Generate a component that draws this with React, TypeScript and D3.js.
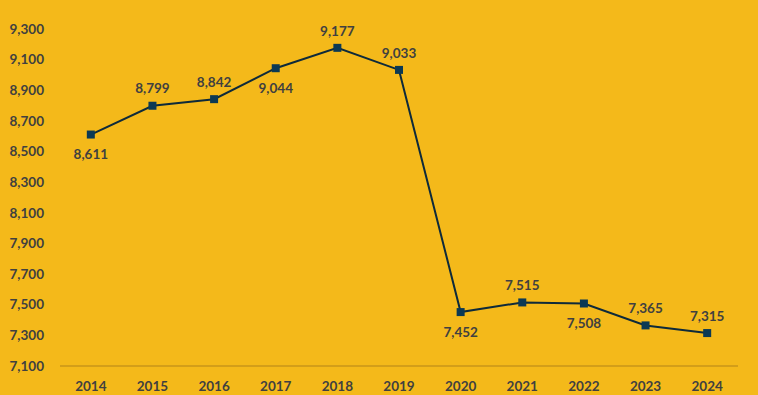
import React from 'react'
import * as d3 from 'd3'

const years = ['2014', '2015', '2016', '2017', '2018', '2019', '2020', '2021', '2022', '2023', '2024']
const values = [8611, 8799, 8842, 9044, 9177, 9033, 7452, 7515, 7508, 7365, 7315]
const labelBelow = [true, false, false, true, false, false, true, false, true, false, false]
const yTicks = [7100, 7300, 7500, 7700, 7900, 8100, 8300, 8500, 8700, 8900, 9100, 9300]

const W = 758
const H = 395
const BG = '#F4B91A'
const TEXT = '#404040'
const LINE = '#0E2A3A'
const MARK = '#0B3954'

const App: React.FC = () => {
  const margin = { top: 29, right: 20, bottom: 29, left: 60 }

  const x = d3.scaleBand<string>()
    .domain(years)
    .range([margin.left, W - margin.right])

  const y = d3.scaleLinear()
    .domain([7100, 9300])
    .range([H - margin.bottom, margin.top])

  const fmt = d3.format(',')
  const cx = (d: string) => (x(d) ?? 0) + x.bandwidth() / 2

  const line = d3.line<number>()
    .x((d, i) => cx(years[i]))
    .y(d => y(d))

  return (
    <svg width={W} height={H} style={{ position: 'absolute', left: 0, top: 0, background: BG }}
      fontFamily="Lato, 'Open Sans', sans-serif">
      <rect x={0} y={0} width={W} height={H} fill={BG} />

      {/* y axis labels */}
      {yTicks.map(t => (
        <text key={t} x={44} y={y(t)} dy="0.35em" textAnchor="end"
          fontSize={13.5} fontWeight="bold" fill={TEXT}>
          {fmt(t)}
        </text>
      ))}

      {/* x axis */}
      <line x1={margin.left} x2={W - margin.right} y1={y(7100)} y2={y(7100)}
        stroke="#C9961A" strokeWidth={1.5} />
      {years.map(d => (
        <text key={d} x={cx(d)} y={y(7100) + 20} dy="0.35em" textAnchor="middle"
          fontSize={13.5} fontWeight="bold" fill={TEXT}>
          {d}
        </text>
      ))}

      {/* series */}
      <path d={line(values) ?? ''} fill="none" stroke={LINE} strokeWidth={2} />
      {values.map((v, i) => (
        <rect key={i} x={cx(years[i]) - 4} y={y(v) - 4} width={8} height={8} fill={MARK} />
      ))}

      {/* data labels */}
      {values.map((v, i) => (
        <text key={'l' + i} x={cx(years[i])} y={labelBelow[i] ? y(v) + 20 : y(v) - 17}
          dy="0.35em" textAnchor="middle" fontSize={13.5} fontWeight="bold" fill={TEXT}>
          {fmt(v)}
        </text>
      ))}
    </svg>
  )
}

export default App
